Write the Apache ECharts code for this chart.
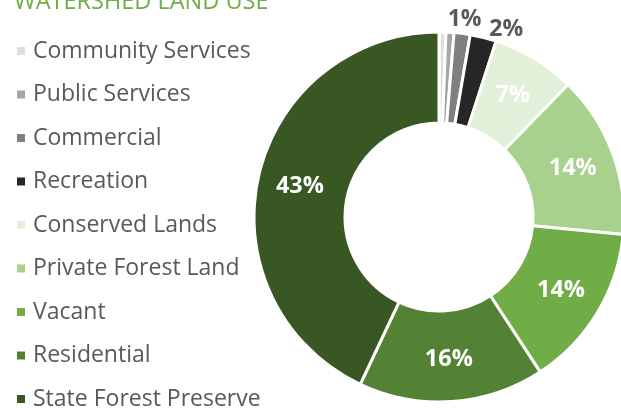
<!DOCTYPE html>
<html>
<head>
<meta charset="utf-8">
<script src="https://cdn.jsdelivr.net/npm/echarts@6/dist/echarts.min.js"></script>
<style>
  html, body { margin: 0; padding: 0; background: #fff; }
  #chart { width: 621px; height: 408px; }
</style>
</head>
<body>
<div id="chart"></div>
<script>
var categories = ['Community Services', 'Public Services', 'Commercial', 'Recreation',
    'Conserved Lands', 'Private Forest Land', 'Vacant', 'Residential', 'State Forest Preserve'];
var shares = [0.6, 0.7, 1.4, 2.3, 7.3, 14.2, 14.3, 16.2, 43.0];
var colors = ['#dedede', '#a6a6a6', '#7f7f7f', '#262626',
    '#e2efd9', '#a9d18e', '#70ad47', '#548235', '#385723'];
var outsideLabels = ['Commercial', 'Recreation'];
var hiddenLabels = ['Community Services', 'Public Services'];

var chart = echarts.init(document.getElementById('chart'));
var font = '"Open Sans", sans-serif';

var seriesData = categories.map(function (name, i) {
    var d = { name: name, value: shares[i], itemStyle: { color: colors[i] } };
    if (hiddenLabels.indexOf(name) >= 0) {
        d.label = { show: false };
    } else if (outsideLabels.indexOf(name) >= 0) {
        d.label = { position: 'outside', color: '#595959', fontSize: 23 };
        d.labelLine = { show: false, length: 4, length2: 0 };
    }
    return d;
});

// nudge the two small outside labels apart like the original
var labelNudge = { 'Commercial': [-20, -10], 'Recreation': [0, -4] };

chart.setOption({
    animation: false,
    title: {
        text: 'WATERSHED LAND USE',
        left: 9,
        top: -15,
        textStyle: { color: '#70ad47', fontFamily: font, fontSize: 23.5, fontWeight: 'normal' }
    },
    legend: {
        orient: 'vertical',
        left: 10,
        top: 34,
        height: 500,
        itemWidth: 10,
        itemHeight: 10,
        itemGap: 19.5,
        icon: 'rect',
        data: categories,
        textStyle: { color: '#595959', fontFamily: font, fontSize: 23, lineHeight: 24, padding: [0, 0, 0, 2] }
    },
    series: [{
        type: 'pie',
        center: [439, 217],
        radius: [94, 185],
        startAngle: 90,
        clockwise: true,
        avoidLabelOverlap: false,
        labelLayout: function (p) {
            var n = labelNudge[categories[p.dataIndex]];
            return n ? { dx: n[0], dy: n[1], hideOverlap: false } : { hideOverlap: false };
        },
        itemStyle: { borderColor: '#fff', borderWidth: 3 },
        label: {
            show: true,
            position: 'inside',
            color: '#fff',
            fontFamily: font,
            fontSize: 23.5,
            fontWeight: 'bold',
            formatter: function (p) { return Math.round(p.value) + '%'; }
        },
        labelLine: { show: false },
        emphasis: { disabled: true },
        data: seriesData
    }]
});
</script>
</body>
</html>
